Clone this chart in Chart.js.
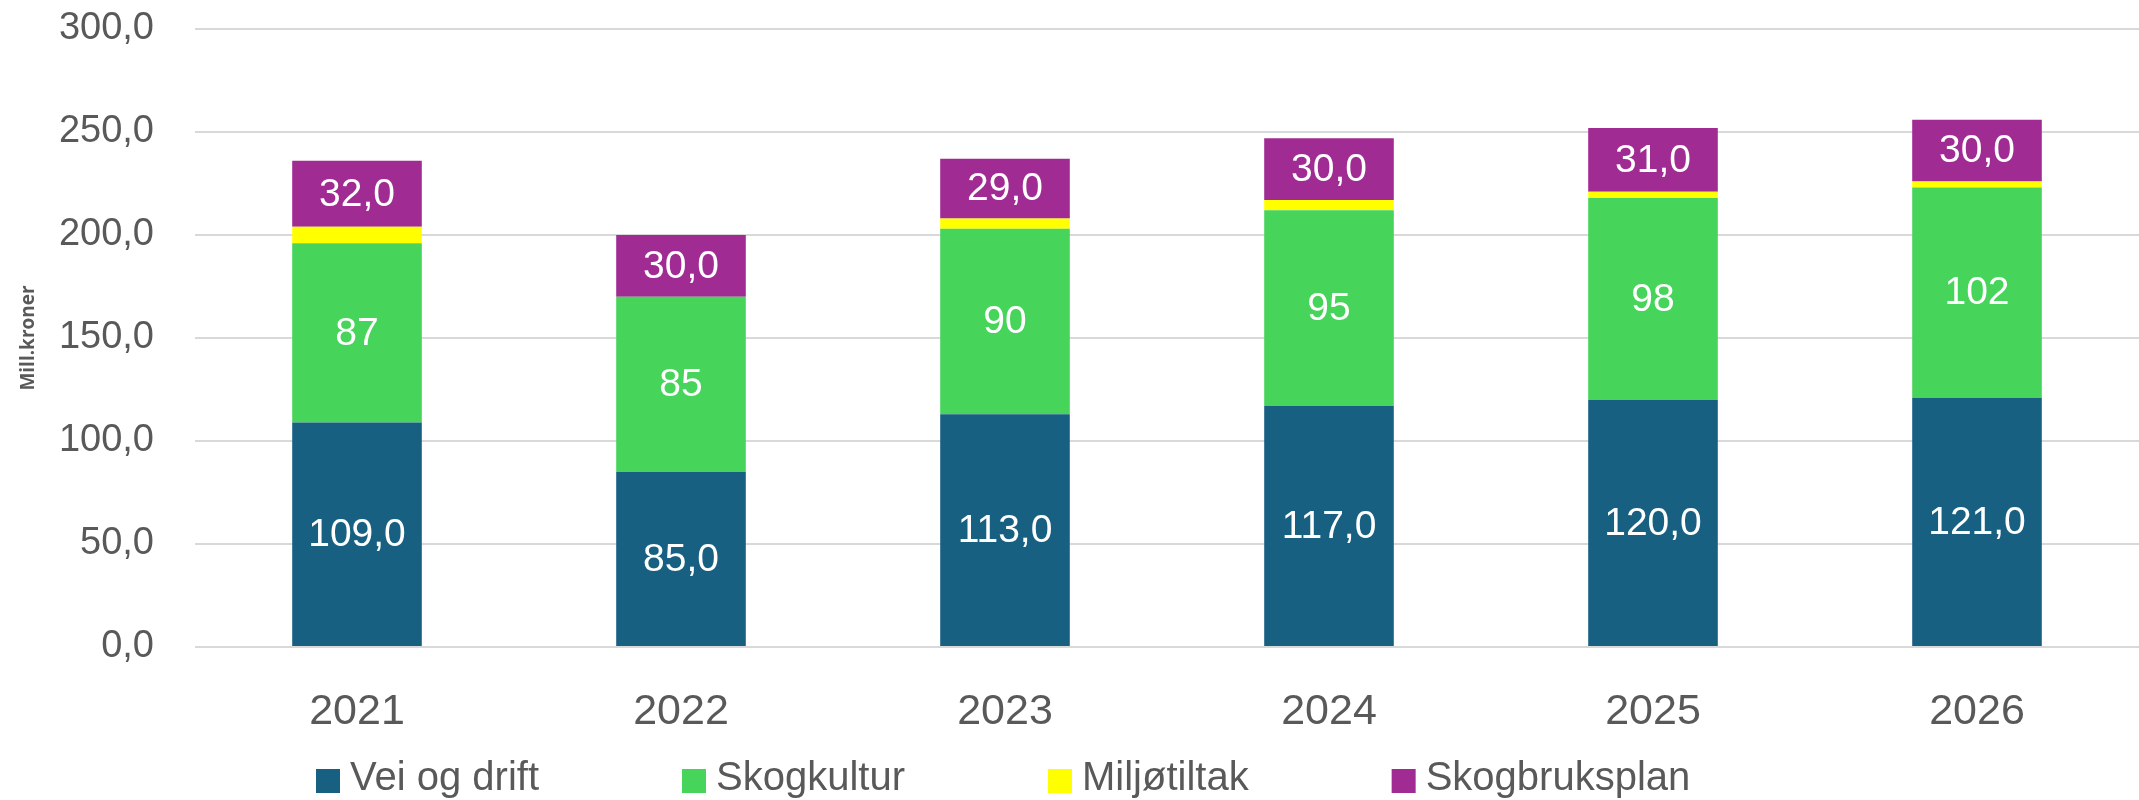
<!DOCTYPE html>
<html>
<head>
<meta charset="utf-8">
<script src="https://cdn.jsdelivr.net/npm/chart.js@4"></script>
<style>
html, body { margin: 0; padding: 0; background: #fff; }
</style>
</head>
<body>
<canvas id="myChart" width="2139" height="800"></canvas>
<script>
var years = ['2021', '2022', '2023', '2024', '2025', '2026'];
var veiOgDrift = [109, 85, 113, 117, 120, 121];
var skogkultur = [87, 85, 90, 95, 98, 102];
var miljotiltak = [8, 0, 5, 5, 3, 3];
var skogbruksplan = [32, 30, 29, 30, 31, 30];
var yMax = 300;
var yStep = 50;

var textGrey = '#595959';
var fontFam = '"Liberation Sans", Arial, sans-serif';

function kommaTall(v, dec) {
    return v.toFixed(dec).replace('.', ',');
}

// white value labels in the middle of each segment
var barLabels = {
    id: 'barLabels',
    afterDatasetsDraw: function(chart) {
        var c = chart.ctx;
        c.save();
        c.font = '39px ' + fontFam;
        c.fillStyle = '#ffffff';
        c.textAlign = 'center';
        c.textBaseline = 'middle';
        chart.data.datasets.forEach(function(ds, i) {
            if (ds.labelDecimals === null) return;
            chart.getDatasetMeta(i).data.forEach(function(bar, j) {
                var v = ds.data[j];
                if (!v) return;
                c.fillText(kommaTall(v, ds.labelDecimals), bar.x, (bar.y + bar.base) / 2 + 1);
            });
        });
        c.restore();
    }
};

// legend drawn by hand so the spacing follows the original
var bottomLegend = {
    id: 'bottomLegend',
    afterDraw: function(chart) {
        var c = chart.ctx;
        c.save();
        c.font = '40px ' + fontFam;
        c.textBaseline = 'middle';
        c.textAlign = 'left';
        var x = 316;
        var y = 781;
        chart.data.datasets.forEach(function(ds) {
            c.fillStyle = ds.backgroundColor;
            c.fillRect(x, y - 12, 24, 24);
            c.fillStyle = textGrey;
            c.fillText(ds.label, x + 34, y - 2);
            x += 34 + c.measureText(ds.label).width + 143;
        });
        c.restore();
    }
};

var ctx = document.getElementById('myChart').getContext('2d');
var chart = new Chart(ctx, {
    type: 'bar',
    data: {
        labels: years,
        datasets: [
            { label: 'Vei og drift', data: veiOgDrift, backgroundColor: '#176082', labelDecimals: 1 },
            { label: 'Skogkultur', data: skogkultur, backgroundColor: '#47D45A', labelDecimals: 0 },
            { label: 'Miljøtiltak', data: miljotiltak, backgroundColor: '#FFFF00', labelDecimals: null },
            { label: 'Skogbruksplan', data: skogbruksplan, backgroundColor: '#A02B93', labelDecimals: 1 }
        ]
    },
    options: {
        responsive: false,
        animation: false,
        categoryPercentage: 1.0,
        barPercentage: 0.4,
        layout: { padding: { top: 29, right: 0, bottom: 0, left: 0 } },
        plugins: {
            legend: { display: false },
            tooltip: { enabled: false }
        },
        scales: {
            x: {
                stacked: true,
                grid: { display: false },
                border: { display: false },
                ticks: {
                    color: textGrey,
                    font: { family: fontFam, size: 43 },
                    padding: 31
                },
                afterFit: function(scale) { scale.height = 153; }
            },
            y: {
                stacked: true,
                min: 0,
                max: yMax,
                border: { display: false },
                grid: { color: '#d9d9d9', lineWidth: 2, drawTicks: false },
                ticks: {
                    stepSize: yStep,
                    color: textGrey,
                    font: { family: fontFam, size: 38, lineHeight: 1.0 },
                    padding: 41,
                    callback: function(v) { return kommaTall(v, 1); }
                },
                title: {
                    display: true,
                    text: 'Mill.kroner',
                    color: textGrey,
                    font: { family: '"Open Sans", sans-serif', size: 19, weight: 'bold' },
                    padding: { top: 17, bottom: 0 }
                },
                afterFit: function(scale) {
                    scale.width = 195;
                    scale.paddingTop = 0;
                    scale.paddingBottom = 0;
                }
            }
        }
    },
    plugins: [barLabels, bottomLegend]
});
</script>
</body>
</html>
